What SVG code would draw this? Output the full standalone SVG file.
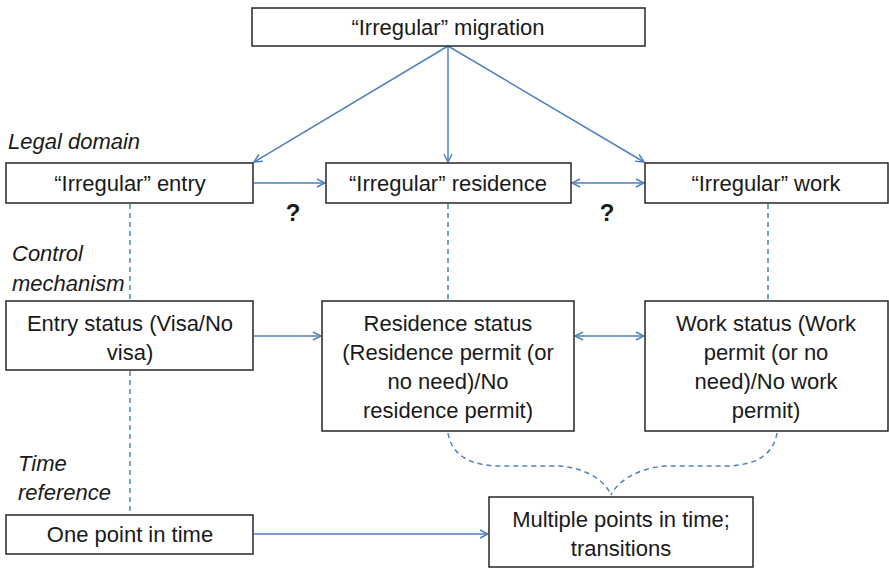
<svg xmlns="http://www.w3.org/2000/svg" width="889" height="570" viewBox="0 0 889 570">
<style>
.box{fill:#fff;stroke:#262626;stroke-width:1.5}
.t{font-family:"Liberation Sans",Arial,sans-serif;font-size:22px;fill:#1a1a1a;text-anchor:middle}
.lab{font-family:"Liberation Sans",Arial,sans-serif;font-size:22px;font-style:italic;fill:#1a1a1a}
.q{font-family:"Liberation Sans",Arial,sans-serif;font-size:24px;font-weight:bold;fill:#1a1a1a;text-anchor:middle}
.c{stroke:#4f81bd;stroke-width:1.5;fill:none}
.d{stroke:#4f81bd;stroke-width:1.5;fill:none;stroke-dasharray:5 4}
</style>
<defs>
<marker id="ah" viewBox="0 0 10 10" refX="9" refY="5" markerWidth="10" markerHeight="10" markerUnits="userSpaceOnUse" orient="auto-start-reverse">
<path d="M1,1 L9,5 L1,9" fill="none" stroke="#4f81bd" stroke-width="1.5"/>
</marker>
</defs>
<rect width="889" height="570" fill="#fff"/>
<g id="labels">
<text class="lab" x="8" y="149">Legal domain</text>
<text class="lab" x="12" y="261">Control</text>
<text class="lab" x="12" y="291">mechanism</text>
<text class="lab" x="18" y="471">Time</text>
<text class="lab" x="18" y="500">reference</text>
<text class="q" x="293" y="221">?</text>
<text class="q" x="607" y="221">?</text>
</g>
<g id="connectors">
<line class="c" x1="448" y1="46" x2="254" y2="162" marker-end="url(#ah)"/>
<line class="c" x1="448" y1="46" x2="448" y2="162" marker-end="url(#ah)"/>
<line class="c" x1="448" y1="46" x2="644" y2="162" marker-end="url(#ah)"/>
<line class="c" x1="254" y1="183" x2="325" y2="183" marker-end="url(#ah)"/>
<line class="c" x1="572" y1="183" x2="644" y2="183" marker-start="url(#ah)" marker-end="url(#ah)"/>
<line class="c" x1="254" y1="336" x2="321" y2="336" marker-end="url(#ah)"/>
<line class="c" x1="575" y1="336" x2="644" y2="336" marker-start="url(#ah)" marker-end="url(#ah)"/>
<line class="c" x1="254" y1="534" x2="488" y2="534" marker-end="url(#ah)"/>
<line class="d" x1="130" y1="204" x2="130" y2="300"/>
<line class="d" x1="130" y1="371" x2="130" y2="514"/>
<line class="d" x1="448" y1="204" x2="448" y2="300"/>
<line class="d" x1="768" y1="204" x2="768" y2="300"/>
<path class="d" d="M448,433 C452,458 475,466 500,466 L560,466 C585,468 605,480 611,495"/>
<path class="d" d="M777,433 C773,458 750,466 725,466 L665,466 C640,468 618,480 611,495"/>
</g>
<g id="n-migration">
<rect class="box" x="252" y="8" width="393" height="38"/>
<text class="t" x="448" y="35">“Irregular” migration</text>
</g>
<g id="n-entry">
<rect class="box" x="6" y="163" width="247" height="40"/>
<text class="t" x="130" y="191">“Irregular” entry</text>
</g>
<g id="n-residence">
<rect class="box" x="326" y="163" width="245" height="40"/>
<text class="t" x="448" y="191">“Irregular” residence</text>
</g>
<g id="n-work">
<rect class="box" x="645" y="163" width="243" height="40"/>
<text class="t" x="766" y="191">“Irregular” work</text>
</g>
<g id="n-entry-status">
<rect class="box" x="6" y="301" width="247" height="69"/>
<text class="t" x="130" y="331">Entry status (Visa/No</text>
<text class="t" x="130" y="360">visa)</text>
</g>
<g id="n-residence-status">
<rect class="box" x="322" y="301" width="252" height="130"/>
<text class="t" x="448" y="331">Residence status</text>
<text class="t" x="448" y="360">(Residence permit (or</text>
<text class="t" x="448" y="389">no need)/No</text>
<text class="t" x="448" y="418">residence permit)</text>
</g>
<g id="n-work-status">
<rect class="box" x="645" y="301" width="243" height="130"/>
<text class="t" x="766" y="331">Work status (Work</text>
<text class="t" x="766" y="360">permit (or no</text>
<text class="t" x="766" y="389">need)/No work</text>
<text class="t" x="766" y="418">permit)</text>
</g>
<g id="n-one-point">
<rect class="box" x="6" y="515" width="247" height="39"/>
<text class="t" x="130" y="542">One point in time</text>
</g>
<g id="n-multiple">
<rect class="box" x="489" y="497" width="264" height="70"/>
<text class="t" x="621" y="527">Multiple points in time;</text>
<text class="t" x="621" y="556">transitions</text>
</g>
</svg>
